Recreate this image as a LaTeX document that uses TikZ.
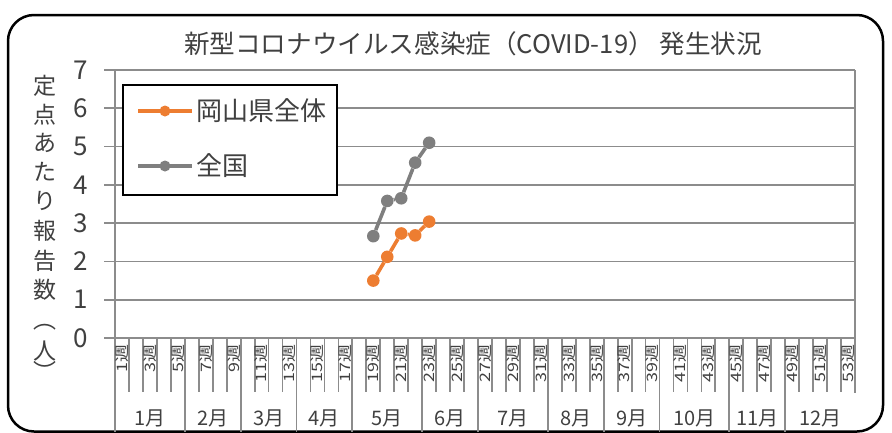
\documentclass[tikz,border=0pt]{standalone}
\usepackage{fontspec}
\setmainfont{Noto Sans CJK JP}
\definecolor{txt}{HTML}{404040}
\definecolor{gridc}{HTML}{8C8C8C}
\definecolor{orS}{HTML}{ED7D31}
\definecolor{grS}{HTML}{7F7F7F}
\begin{document}
\begin{tikzpicture}[x=1pt,y=-1pt,
  gridl/.style={draw=gridc,line width=1.8pt},
  ytick/.style={text=txt,font=\fontsize{26}{26}\selectfont,inner sep=0pt},
  ytl/.style={text=txt,font=\fontsize{23}{23}\selectfont,inner sep=0pt},
  wklbl/.style={text=txt,font=\fontsize{18}{18}\selectfont,inner sep=0pt,anchor=east,rotate=90},
  mlbl/.style={text=txt,font=\fontsize{20}{20}\selectfont,inner sep=0pt},
  omark/.style={circle,fill=orS,inner sep=0pt,minimum size=12.6pt},
  gmark/.style={circle,fill=grS,inner sep=0pt,minimum size=12.6pt},
  oline/.style={draw=orS,line width=3.6pt},
  gline/.style={draw=grS,line width=3.6pt},
  lomark/.style={circle,fill=orS,inner sep=0pt,minimum size=11pt},
  lgmark/.style={circle,fill=grS,inner sep=0pt,minimum size=11pt},
  legtxt/.style={text=txt,font=\fontsize{26}{26}\selectfont,inner sep=0pt,anchor=west}]
\useasboundingbox (0,0) rectangle (892,432);
% outer frame
\draw[line width=2.5pt,rounded corners=26pt] (8,15) rectangle (883,431.5);
% title
\node[text=txt,font=\fontsize{25.6}{26}\selectfont,inner sep=0pt] (title) at (473,44) {新型コロナウイルス感染症（COVID-19） 発生状況};
% gridlines and y ticks
\foreach \v in {0,...,7}{
  \pgfmathsetmacro\yy{338-\v*38.2857}
  \draw[gridl] (104,\yy) -- (855,\yy);
  \node[ytick] (yt\v) at (81,\yy) {\v};
}
% plot borders
\draw[gridl] (115,70) -- (115,432);
\draw[gridl] (855,70) -- (855,393);
% week ticks
\foreach \i in {1,...,52}{
  \pgfmathsetmacro\xx{115+\i*13.9623}
  \draw[gridl] (\xx,338) -- (\xx,392);
}
\foreach \i in {5,9,13,17,22,26,31,35,39,44,48}{
  \pgfmathsetmacro\xx{115+\i*13.9623}
  \draw[gridl] (\xx,338) -- (\xx,432);
}
% week labels
\foreach \i in {1,3,...,53}{
  \pgfmathsetmacro\xx{115+(\i-0.5)*13.9623}
  \node[wklbl] (wk\i) at (\xx,344.5) {\scalebox{1}[0.8]{{\i}週}};
}
% month labels
\foreach \a/\b/\m in {0/5/1月,5/9/2月,9/13/3月,13/17/4月,17/22/5月,22/26/6月,26/31/7月,31/35/8月,35/39/9月,39/44/10月,44/48/11月,48/53/12月}{
  \pgfmathsetmacro\xx{115+(\a+\b)/2*13.9623}
  \node[mlbl] (mo\a) at (\xx,418) {\m};
}
% y axis title
\foreach \c/\yy [count=\k] in {定/86,点/115,あ/143,た/172,り/201,報/231,告/261,数/290,︵/327,人/351,︶/371}{
  \node[ytl] (yl\k) at (45,\yy) {\c};
}
% data: gray series
\foreach \n/\v in {1/2.66,2/3.58,3/3.65,4/4.58,5/5.10}{
  \pgfmathsetmacro\xx{115+(17.5+\n)*13.9623}
  \pgfmathsetmacro\yy{338-\v*38.2857}
  \node[gmark] (g\n) at (\xx,\yy) {};
}
\draw[gline] (g1) -- (g2) -- (g3) -- (g4) -- (g5);
% data: orange series
\foreach \n/\v in {1/1.5,2/2.12,3/2.73,4/2.68,5/3.04}{
  \pgfmathsetmacro\xx{115+(17.5+\n)*13.9623}
  \pgfmathsetmacro\yy{338-\v*38.2857}
  \node[omark] (o\n) at (\xx,\yy) {};
}
\draw[oline] (o1) -- (o2) -- (o3) -- (o4) -- (o5);
% legend
\node[draw=black,line width=2pt,fill=white,minimum width=214pt,minimum height=110pt,inner sep=0pt,anchor=north west] (leg) at (122,84) {};
\coordinate (lo1) at (138,111);
\coordinate (lo2) at (192,111);
\draw[oline] (lo1) -- (lo2);
\node[lomark] (lom) at (165,111) {};
\node[legtxt] (lot) at (196,111) {岡山県全体};
\coordinate (lg1) at (138,166);
\coordinate (lg2) at (192,166);
\draw[gline] (lg1) -- (lg2);
\node[lgmark] (lgm) at (165,166) {};
\node[legtxt] (lgt) at (196,166) {全国};
\end{tikzpicture}
\end{document}
